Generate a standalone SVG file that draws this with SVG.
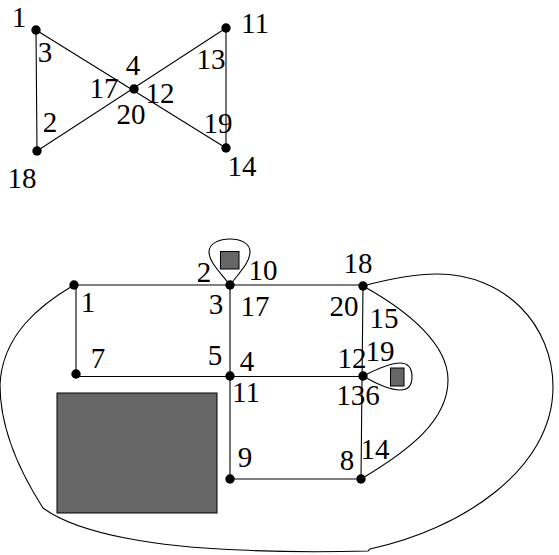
<svg xmlns="http://www.w3.org/2000/svg" width="559" height="555" viewBox="0 0 559 555">
<style>
.l{fill:none;stroke:#000;stroke-width:1.1}
.n{fill:#000}
.o{fill:#666;stroke:#000;stroke-width:1}
text{font-family:"Liberation Serif","Times New Roman",serif;font-size:29px;fill:#000;text-anchor:middle}
</style>
<rect width="559" height="555" fill="#fff"/>
<g id="connectors">
<path class="l" d="M36 30L37 151L226 28L226 148L36 30"/>
<path class="l" d="M74 285H363M76 285V374M76 376.500H363M230 285V479H361L363 286"/>
<path class="l" d="M363 286C385 280 410 274 437 274C505 274 553 325 553 387C553 470 460 530 370 549L368 551C330 552 280 552 240 550C160 547 80 535 43 508C25 480 0 435 0 385C2 335 40 305 74 285"/>
<path class="l" d="M363 286C410 312 448 345 448 380C448 420 410 450 361 479"/>
<path class="l" d="M230 285C220 272 209 262 209 252C209 243 220 239 230 239C240 239 250 243 250 252C250 262 240 272 230 285Z"/>
<path class="l" d="M363 376C375 370 390 363 400 363C408 363 412 368 412 377C412 386 408 390 400 390C390 390 375 383 363 376Z"/>
</g>
<g id="obstacles">
<rect class="o" x="57" y="393" width="160" height="120"/>
<rect class="o" x="220.500" y="251.500" width="18.500" height="17.500"/>
<rect class="o" x="390.500" y="368" width="13.500" height="18"/>
</g>
<g id="n1"><circle class="n" cx="36" cy="30" r="4.700"/><text x="19" y="27">1</text></g>
<g id="n2"><circle class="n" cx="37" cy="151" r="4.700"/><text x="22" y="188">18</text></g>
<g id="n3"><circle class="n" cx="134" cy="89" r="4.700"/></g>
<g id="n4"><circle class="n" cx="226" cy="28" r="4.700"/><text x="255" y="33">11</text></g>
<g id="n5"><circle class="n" cx="226" cy="148" r="4.700"/><text x="242" y="176">14</text></g>
<g id="n6"><circle class="n" cx="74" cy="285" r="4.700"/></g>
<g id="n7"><circle class="n" cx="230" cy="285" r="4.700"/></g>
<g id="n8"><circle class="n" cx="363" cy="286" r="4.700"/></g>
<g id="n9"><circle class="n" cx="76" cy="374" r="4.700"/></g>
<g id="n10"><circle class="n" cx="230" cy="376" r="4.700"/></g>
<g id="n11"><circle class="n" cx="363" cy="376" r="4.700"/></g>
<g id="n12"><circle class="n" cx="230" cy="479" r="4.700"/></g>
<g id="n13"><circle class="n" cx="361" cy="479" r="4.700"/></g>
<g id="labels">
<text x="45" y="62">3</text><text x="50" y="132">2</text><text x="133" y="75">4</text>
<text x="104" y="98">17</text><text x="131" y="124">20</text><text x="160" y="103">12</text>
<text x="211" y="69">13</text><text x="218" y="133">19</text>
<text x="204" y="282">2</text><text x="263" y="280">10</text><text x="358" y="273">18</text>
<text x="216" y="314">3</text><text x="255" y="316">17</text><text x="344" y="316">20</text>
<text x="384" y="328">15</text><text x="215" y="365">5</text><text x="247" y="371">4</text>
<text x="352" y="368">12</text><text x="380" y="361">19</text><text x="246" y="402">11</text>
<text x="358" y="405">136</text><text x="245" y="467">9</text><text x="347" y="470">8</text>
<text x="375" y="459">14</text><text x="88" y="312">1</text><text x="98" y="368">7</text>
</g>
</svg>
